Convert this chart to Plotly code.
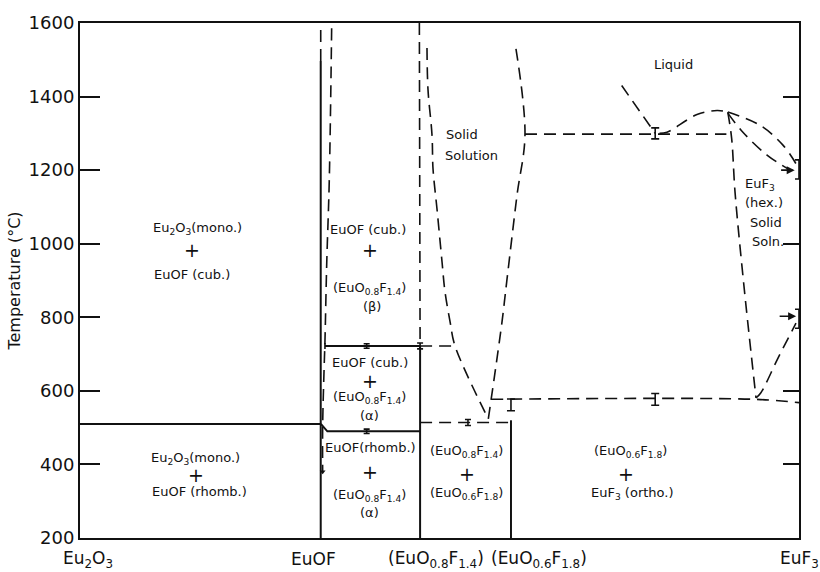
import plotly.graph_objects as go

# ---------------- data ----------------
# composition axis: position along Eu2O3 -> EuF3 (percent of axis width)
comp_names = ["Eu<sub>2</sub>O<sub>3</sub>", "EuOF",
              "(EuO<sub>0.8</sub>F<sub>1.4</sub>)", "(EuO<sub>0.6</sub>F<sub>1.8</sub>)",
              "EuF<sub>3</sub>"]
comp_x = [0.0, 33.48, 47.3, 59.94, 100.0]

y_ticks = [200, 400, 600, 800, 1000, 1200, 1400, 1600]
right_ticks = [400, 600, 1000, 1400]

# solid phase boundaries (composition, temperature)
eutectoid_x = [0.0, 33.48];            eutectoid_T = [510, 510]
euof_x = [33.48, 33.48];               euof_T = [200, 1497]
ox14_x = [47.3, 47.3];                 ox14_T = [200, 722]
ox18_x = [59.94, 59.94];               ox18_T = [200, 520]
line722_x = [34.07, 47.3];             line722_T = [722, 722]
line490_x = [33.5, 34.4, 47.3];        line490_T = [510, 490, 490]

# dashed phase boundaries
euof_top_x = [33.48, 33.48];           euof_top_T = [1497, 1600]
euof_solvus_x = [35.0, 34.67, 34.31, 34.07, 33.94, 33.75, 33.75]
euof_solvus_T = [1586, 1173, 943, 735, 654, 505, 380]
ox14_upper_x = [47.2, 47.3];           ox14_upper_T = [1600, 722]
ss_left_x = [48.26, 48.4, 48.96, 49.1, 49.65, 50.35, 50.76, 51.46, 52.16, 56.79]
ss_left_T = [1532, 1419, 1295, 1203, 1095, 951, 870, 789, 722, 524]
dash722_x = [47.3, 52.16];             dash722_T = [722, 722]
ss_right_x = [56.79, 58.65, 59.35, 60.78, 61.89, 60.5]
ss_right_T = [524, 781, 897, 1132, 1298, 1546]
line515_x = [47.3, 59.94];             line515_T = [514, 514]
line575_x = [57.17, 94.0, 100.0];      line575_T = [577, 577, 568]
line1300_x = [61.89, 89.9];            line1300_T = [1298, 1298]
liq_left_x = [75.34, 80.0];            liq_left_T = [1430, 1300]
liq_max_x = [80.6, 81.64, 85.81, 88.6, 90.1]
liq_max_T = [1300, 1303, 1351, 1362, 1358]
euf3_left_x = [90.1, 90.64, 91.1, 92.35, 94.02]
euf3_left_T = [1358, 1285, 1141, 884, 581]
euf3_upper_x = [90.1, 94.58, 97.77, 99.72]
euf3_upper_T = [1358, 1322, 1268, 1213]
euf3_lower_x = [90.1, 92.2, 95.55, 98.75]
euf3_lower_T = [1355, 1303, 1241, 1200]
euf3_solvus_x = [94.02, 94.7, 97.08, 99.58]
euf3_solvus_T = [581, 595, 689, 784]

# measured points with uncertainty ("I" marks)
pts_small_x = [39.87, 39.87, 47.3, 53.96]
pts_small_T = [722, 490, 722, 514]
pts_small_err = [6, 6, 8, 8]
pts_large_x = [59.94, 80.0, 80.0, 100.0, 100.0]
pts_large_T = [562, 1300, 577, 1202, 796]
pts_large_err = [16, 15, 16, 26, 26]
cap_x = [34.07]; cap_T = [722]; cap_err = [8]

# arrows (tail x, head x, temperature)
arrow_tail_x = [97.3, 97.1]
arrow_head_x = [99.4, 99.6]
arrow_T = [1200, 803]

# region labels
label_text = ["Eu<sub>2</sub>O<sub>3</sub>(mono.)", "EuOF (cub.)",
              "Eu<sub>2</sub>O<sub>3</sub>(mono.)", "EuOF (rhomb.)",
              "EuOF (cub.)", "(EuO<sub>0.8</sub>F<sub>1.4</sub>)", "(β)",
              "EuOF (cub.)", "(EuO<sub>0.8</sub>F<sub>1.4</sub>)", "(α)",
              "EuOF(rhomb.)", "(EuO<sub>0.8</sub>F<sub>1.4</sub>)", "(α)",
              "(EuO<sub>0.8</sub>F<sub>1.4</sub>)", "(EuO<sub>0.6</sub>F<sub>1.8</sub>)",
              "(EuO<sub>0.6</sub>F<sub>1.8</sub>)", "EuF<sub>3</sub> (ortho.)",
              "Liquid"]
label_x = [16.4, 15.6, 16.1, 16.6, 40.0, 40.3, 40.6, 40.3, 40.3, 40.3,
           40.4, 40.3, 40.3, 53.8, 53.8, 76.5, 76.9, 82.6]
label_T = [1041, 916, 415, 326, 1038, 878, 830, 677, 582, 532,
           447, 316, 268, 436, 322, 436, 322, 1487]
plus_x = [15.6, 16.1, 40.3, 40.3, 40.3, 53.8, 76.0]
plus_T = [984, 372, 984, 627, 379, 374, 374]

left_text = ["Solid", "Solution", "EuF<sub>3</sub>", "(hex.)", "Solid", "Soln."]
left_x = [50.6, 50.5, 92.2, 92.2, 92.9, 93.2]
left_T = [1298, 1240, 1162, 1113, 1059, 1005]

# ---------------- figure ----------------
INK = "#111111"
FONT = "DejaVu Sans"
fig = go.Figure()

solid = [(eutectoid_x, eutectoid_T), (euof_x, euof_T), (ox14_x, ox14_T),
         (ox18_x, ox18_T), (line722_x, line722_T), (line490_x, line490_T)]
dashed = [(euof_top_x, euof_top_T), (euof_solvus_x, euof_solvus_T),
          (ox14_upper_x, ox14_upper_T), (ss_left_x, ss_left_T),
          (dash722_x, dash722_T), (ss_right_x, ss_right_T),
          (line515_x, line515_T), (line575_x, line575_T),
          (line1300_x, line1300_T), (liq_left_x, liq_left_T),
          (liq_max_x, liq_max_T), (euf3_left_x, euf3_left_T),
          (euf3_upper_x, euf3_upper_T), (euf3_lower_x, euf3_lower_T),
          (euf3_solvus_x, euf3_solvus_T)]

for xs, ts in solid:
    fig.add_trace(go.Scatter(x=xs, y=ts, mode="lines",
                             line=dict(color=INK, width=2),
                             showlegend=False, hoverinfo="skip"))
for xs, ts in dashed:
    fig.add_trace(go.Scatter(x=xs, y=ts, mode="lines",
                             line=dict(color=INK, width=1.6, dash="12px,7px"),
                             line_shape="spline",
                             showlegend=False, hoverinfo="skip"))

for xs, ts, errs, w in [(pts_small_x, pts_small_T, pts_small_err, 3),
                        (pts_large_x, pts_large_T, pts_large_err, 4),
                        (cap_x, cap_T, cap_err, 0)]:
    fig.add_trace(go.Scatter(x=xs, y=ts, mode="markers",
                             marker=dict(size=1, color=INK, opacity=0),
                             error_y=dict(type="data", array=errs, visible=True,
                                          color=INK, thickness=1.6, width=w),
                             showlegend=False, hoverinfo="skip"))

# small arrowhead at the bottom of the EuOF solvus
fig.add_trace(go.Scatter(x=[euof_solvus_x[-1]], y=[euof_solvus_T[-1]],
                         mode="markers",
                         marker=dict(symbol="triangle-down", size=5, color=INK),
                         showlegend=False, hoverinfo="skip"))

# invisible trace for the right-hand tick axis
fig.add_trace(go.Scatter(x=[0], y=[200], yaxis="y2", mode="markers",
                         marker=dict(opacity=0), showlegend=False,
                         hoverinfo="skip"))

for tx, hx, t in zip(arrow_tail_x, arrow_head_x, arrow_T):
    fig.add_annotation(x=hx, y=t, ax=tx, ay=t, xref="x", yref="y",
                       axref="x", ayref="y", text="", showarrow=True,
                       arrowhead=2, arrowsize=1, arrowwidth=1.6,
                       arrowcolor=INK)

for t, x, y in zip(label_text, label_x, label_T):
    fig.add_annotation(x=x, y=y, text=t, showarrow=False,
                       font=dict(family=FONT, size=13, color=INK))
for x, y in zip(plus_x, plus_T):
    fig.add_annotation(x=x, y=y, text="+", showarrow=False,
                       font=dict(family=FONT, size=19, color=INK))
for t, x, y in zip(left_text, left_x, left_T):
    fig.add_annotation(x=x, y=y, text=t, showarrow=False, xanchor="left",
                       font=dict(family=FONT, size=13, color=INK))

# composition labels under the axis
name_shift = [8, -7, 16, 28, 0]
for name, x, s in zip(comp_names, comp_x, name_shift):
    fig.add_annotation(x=x, y=0, xref="x", yref="paper", text=name,
                       showarrow=False, xshift=s, yshift=-21,
                       yanchor="middle",
                       font=dict(family=FONT, size=17, color=INK))

fig.update_layout(
    width=820, height=572,
    margin=dict(l=80, r=21, t=20, b=34),
    paper_bgcolor="white", plot_bgcolor="white",
    showlegend=False,
    xaxis=dict(range=[0, 100], showgrid=False, zeroline=False,
               showticklabels=False, ticks="", showline=True,
               linecolor=INK, linewidth=2, mirror=True),
    yaxis=dict(range=[200, 1600], tickvals=y_ticks, showgrid=False,
               zeroline=False, ticks="inside", ticklen=20, tickwidth=2,
               tickcolor=INK, showline=True, linecolor=INK, linewidth=2,
               mirror=True,
               tickfont=dict(family=FONT, size=18, color=INK),
               title=dict(text="Temperature (°C)", standoff=4,
                          font=dict(family=FONT, size=16, color=INK))),
    yaxis2=dict(range=[200, 1600], overlaying="y", side="right",
                tickvals=right_ticks, ticks="inside", ticklen=16,
                tickwidth=1.6, tickcolor=INK, showticklabels=False,
                showgrid=False, zeroline=False, showline=False),
)

fig.write_html("out.html", config={"displayModeBar": False},
               post_script="document.body.style.margin='0px';")
